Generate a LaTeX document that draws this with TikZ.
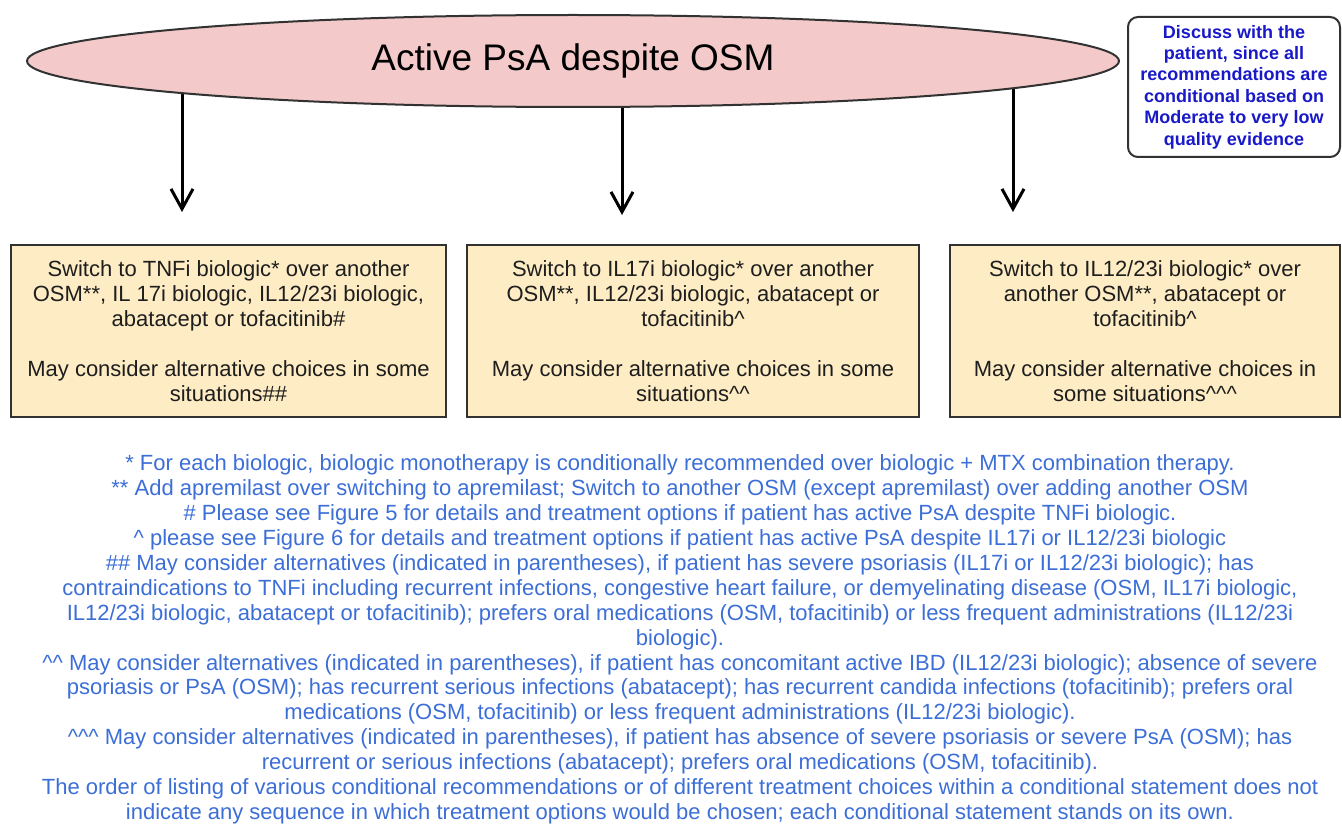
\documentclass[tikz,border=0pt]{standalone}
\usepackage{fontspec}
\setmainfont{Liberation Sans}
\usetikzlibrary{arrows.meta,shapes.geometric,backgrounds}
\definecolor{pinkfill}{RGB}{243,201,201}
\definecolor{boxfill}{RGB}{253,236,196}
\definecolor{edgegray}{RGB}{50,50,50}
\definecolor{boxtext}{RGB}{30,30,30}
\definecolor{notebold}{RGB}{25,25,200}
\definecolor{noteblue}{RGB}{60,110,215}
\tikzset{
  arr/.style={line width=3pt, draw=black, -{Straight Barb[length=20pt,width=22pt,line width=3pt]}},
  choicebox/.style={rectangle, draw=edgegray, line width=2.5pt, fill=boxfill, inner sep=0pt,
    minimum height=172pt, align=center, text=boxtext, font=\fontsize{22}{25}\selectfont},
  discussbox/.style={rectangle, rounded corners=10pt, draw=edgegray, line width=2pt, fill=white,
    inner sep=0pt, minimum width=212pt, minimum height=140pt, align=center, text=notebold,
    font=\bfseries\fontsize{18}{21.4}\selectfont},
  startell/.style={ellipse, draw=edgegray, line width=2pt, fill=pinkfill, inner sep=0pt,
    minimum width=1092pt, minimum height=92pt, font=\fontsize{37}{40}\selectfont, text=black},
  notes/.style={align=center, text=noteblue, font=\fontsize{22}{24.9}\selectfont, inner sep=0pt}
}
\begin{document}
\begin{tikzpicture}[x=1pt,y=-1pt]
\useasboundingbox (0,0) rectangle (1342,824);

\node[startell] (ell) at (573,61) {Active PsA despite OSM};

\coordinate (t1) at (182,212);
\coordinate (t2) at (622,215);
\coordinate (t3) at (1013,212);
\begin{pgfonlayer}{background}
\draw[arr] (ell.center -| t1) -- (t1);
\draw[arr] (ell.center -| t2) -- (t2);
\draw[arr] (ell.center -| t3) -- (t3);
\end{pgfonlayer}

\node[discussbox] (disc) at (1234,87) {Discuss with the\\patient, since all\\recommendations are\\conditional based on\\Moderate to very low\\quality evidence};

\node[choicebox, minimum width=435pt] (b1) at (228.5,331) {Switch to TNFi biologic* over another\\OSM**, IL 17i biologic, IL12/23i biologic,\\abatacept or tofacitinib\#\\[25pt]May consider alternative choices in some\\situations\#\#};
\node[choicebox, minimum width=452pt] (b2) at (693,331) {Switch to IL17i biologic* over another\\OSM**, IL12/23i biologic, abatacept or\\tofacitinib\textasciicircum\\[25pt]May consider alternative choices in some\\situations\textasciicircum\textasciicircum};
\node[choicebox, minimum width=390pt] (b3) at (1145,331) {Switch to IL12/23i biologic* over\\another OSM**, abatacept or\\tofacitinib\textasciicircum\\[25pt]May consider alternative choices in\\some situations\textasciicircum\textasciicircum\textasciicircum};

\node[notes] (fn) at (680,639.5) {%
* For each biologic, biologic monotherapy is conditionally recommended over biologic + MTX combination therapy.\\
** Add apremilast over switching to apremilast; Switch to another OSM (except apremilast) over adding another OSM\\
\# Please see Figure 5 for details and treatment options if patient has active PsA despite TNFi biologic.\\
\textasciicircum{} please see Figure 6 for details and treatment options if patient has active PsA despite IL17i or IL12/23i biologic\\
\#\# May consider alternatives (indicated in parentheses), if patient has severe psoriasis (IL17i or IL12/23i biologic); has\\
contraindications to TNFi including recurrent infections, congestive heart failure, or demyelinating disease (OSM, IL17i biologic,\\
IL12/23i biologic, abatacept or tofacitinib); prefers oral medications (OSM, tofacitinib) or less frequent administrations (IL12/23i\\
biologic).\\
\textasciicircum\textasciicircum{} May consider alternatives (indicated in parentheses), if patient has concomitant active IBD (IL12/23i biologic); absence of severe\\
psoriasis or PsA (OSM); has recurrent serious infections (abatacept); has recurrent candida infections (tofacitinib); prefers oral\\
medications (OSM, tofacitinib) or less frequent administrations (IL12/23i biologic).\\
\textasciicircum\textasciicircum\textasciicircum{} May consider alternatives (indicated in parentheses), if patient has absence of severe psoriasis or severe PsA (OSM); has\\
recurrent or serious infections (abatacept); prefers oral medications (OSM, tofacitinib).\\
The order of listing of various conditional recommendations or of different treatment choices within a conditional statement does not\\
indicate any sequence in which treatment options would be chosen; each conditional statement stands on its own.};
\end{tikzpicture}
\end{document}
